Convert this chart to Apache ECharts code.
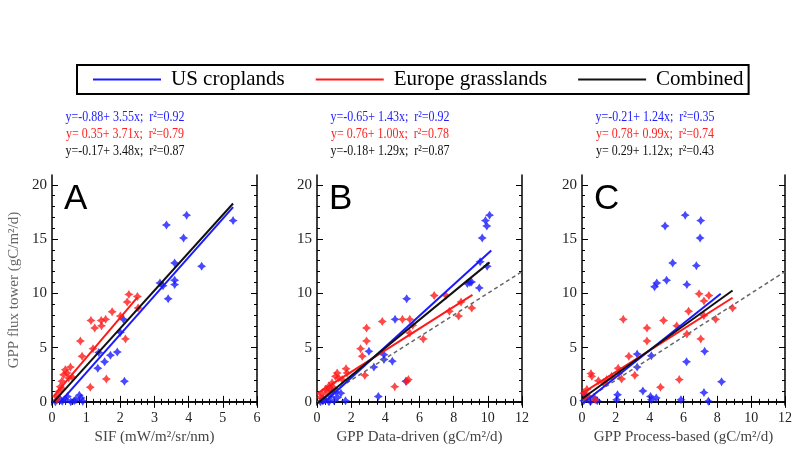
<!DOCTYPE html>
<html>
<head>
<meta charset="utf-8">
<script src="https://cdn.jsdelivr.net/npm/echarts@6/dist/echarts.min.js"></script>
<style>
  html, body { margin: 0; padding: 0; background: #fff; }
  #chart { width: 795px; height: 450px; }
</style>
</head>
<body>
<div id="chart"></div>
<script>
// panel data: [x, GPP flux tower]
const usA = [[5.3,16.7],[3.94,17.2],[3.35,16.3],[3.85,15.1],[3.59,12.8],[4.38,12.5],[3.16,10.95],[3.25,10.7],[3.59,11.2],[3.59,10.8],[3.4,9.5],[2.09,7.6],[2.0,6.4],[1.91,4.6],[1.71,4.3],[1.54,3.7],[1.34,3.1],[1.37,4.55],[2.12,1.9],[0.1,0.0],[0.25,0.2],[0.4,0.2],[0.55,0.0],[0.7,0.2],[0.8,0.6],[0.85,0.35],[0.9,0.05],[0.45,0.5],[0.3,0.05],[0.65,0.1]];
const euA = [[2.25,9.9],[2.5,9.7],[2.2,9.2],[2.52,8.65],[1.76,8.3],[2.0,7.9],[1.14,7.5],[1.44,7.5],[1.57,7.6],[1.45,7.0],[1.25,6.8],[0.83,5.6],[0.88,4.2],[1.2,4.9],[2.15,5.8],[1.12,1.35],[1.59,2.1],[0.54,3.2],[0.44,2.65],[0.34,2.5],[0.49,2.2],[0.29,1.9],[0.24,1.4],[0.2,0.95],[0.13,0.5],[0.39,2.95],[0.59,2.3],[0.3,1.2],[0.15,0.2]];
const usB = [[10.1,17.2],[9.86,16.7],[9.94,16.2],[9.67,15.1],[9.55,12.9],[9.96,12.5],[8.8,10.9],[8.95,11.0],[9.05,11.05],[9.5,10.5],[5.25,9.5],[4.57,7.6],[3.04,4.65],[3.92,4.35],[3.92,3.9],[4.41,3.75],[3.33,3.2],[5.2,1.9],[3.59,0.5],[1.67,0.1],[0.2,0.0],[0.5,0.2],[0.8,0.5],[1.0,0.1],[1.2,0.4],[0.7,0.0],[1.4,0.8],[0.35,0.3],[1.1,0.9],[0.9,1.0]];
const euB = [[6.86,9.8],[7.55,9.8],[7.75,8.35],[8.43,9.2],[8.29,7.9],[9.06,8.65],[5.0,7.6],[5.43,7.6],[3.82,7.4],[2.9,6.8],[2.9,5.6],[5.43,6.35],[5.6,7.05],[6.22,5.8],[2.55,4.9],[2.65,4.2],[2.8,2.45],[1.7,3.05],[1.76,2.65],[5.35,2.05],[5.25,1.9],[4.55,1.4],[1.08,2.35],[1.27,2.2],[1.47,2.05],[0.88,1.75],[0.69,1.45],[0.49,1.15],[0.29,0.7],[0.78,1.15],[0.98,1.3],[0.2,0.4],[1.18,2.65],[0.6,0.9]];
const usC = [[6.1,17.2],[7.02,16.7],[4.91,16.2],[6.98,15.1],[5.36,12.8],[6.76,12.55],[5.0,11.2],[4.42,10.95],[4.29,10.6],[6.2,10.8],[7.25,4.65],[6.18,3.7],[4.1,4.25],[3.26,4.4],[3.26,3.2],[8.25,1.85],[3.6,1.0],[7.21,0.85],[4.05,0.5],[4.39,0.35],[4.1,0.2],[5.85,0.2],[7.47,0.05],[2.1,0.65],[2.05,0.2],[0.1,0.1],[0.3,0.3],[0.5,0.0],[0.7,0.4],[0.9,0.1],[0.2,0.6]];
const euC = [[6.92,9.95],[7.5,9.8],[7.21,9.3],[8.9,8.65],[6.3,8.35],[7.9,7.6],[4.82,7.5],[2.44,7.6],[5.6,7.0],[3.84,6.8],[3.84,5.6],[7.2,7.95],[6.2,6.25],[7.02,5.8],[2.77,4.2],[2.14,3.1],[2.18,2.6],[2.34,2.1],[3.12,2.45],[5.75,2.05],[4.64,1.35],[0.53,2.6],[0.58,2.35],[0.97,1.95],[1.27,1.75],[0.29,1.15],[0.1,0.8],[0.4,0.5],[0.78,0.2],[0.2,0.3],[1.46,2.05],[1.75,2.35]];

// fitted lines y = a + b x, one entry per panel (A, B, C)
const usIntercept = [-0.88, -0.65, -0.21];
const usSlope = [3.55, 1.43, 1.24];
const usR2 = ['0.92', '0.92', '0.35'];
const usRange = [[0.22, 5.3], [0.3, 10.2], [0.1, 8.2]];
const euIntercept = [0.35, 0.76, 0.78];
const euSlope = [3.71, 1.00, 0.99];
const euR2 = ['0.79', '0.78', '0.74'];
const euRange = [[0.05, 2.5], [0.0, 9.1], [0.0, 8.9]];
const allIntercept = [-0.17, -0.18, 0.29];
const allSlope = [3.48, 1.29, 1.12];
const allR2 = ['0.87', '0.87', '0.43'];
const allRange = [[0.05, 5.3], [0.05, 10.1], [0.0, 8.9]];
const oneToOne = [[0, 0], [12, 12]];

const panelLetters = ['A', 'B', 'C'];
const xNames = ['SIF (mW/m²/sr/nm)', 'GPP Data-driven (gC/m²/d)', 'GPP Process-based (gC/m²/d)'];
const yName = 'GPP flux tower (gC/m²/d)';
const xMax = [6, 12, 12];
const xStep = [1, 2, 2];
const xMinor = [5, 4, 4];
const yMajor = [0, 5, 10, 15, 20];
const yMinorVals = [1,2,3,4,6,7,8,9,11,12,13,14,16,17,18,19];

const usPts = [usA, usB, usC];
const euPts = [euA, euB, euC];

const font = 'Liberation Serif';
const BLUE = '#1a1aff', RED = '#ff1a1a', BLACK = '#111';
const gridLeft = [52, 317, 582];
const star = 'path://M0,-1 L0.38,-0.38 L1,0 L0.38,0.38 L0,1 L-0.38,0.38 L-1,0 L-0.38,-0.38 Z';

const chart = echarts.init(document.getElementById('chart'));

const grids = [], xAxes = [], yAxes = [], series = [], graphics = [];
const axisLine = { show: true, lineStyle: { color: '#000', width: 1.5 } };

function fitLine(a, b, r) {
  return [[r[0], a + b * r[0]], [r[1], a + b * r[1]]];
}
function eq(a, b, r2) {
  const s = a < 0 ? a.toFixed(2) : ' ' + a.toFixed(2);
  return 'y=' + s + '+ ' + b.toFixed(2) + 'x;  r²=' + r2;
}

for (let p = 0; p < 3; p++) {
  grids.push({ left: gridLeft[p], top: 175, width: 205, height: 233 });
  const xBase = {
    gridIndex: p, type: 'value', min: 0, max: xMax[p], interval: xStep[p],
    axisLine: axisLine,
    axisTick: { inside: true, length: 6, lineStyle: { color: '#000' } },
    minorTick: { show: true, splitNumber: xMinor[p], length: 3, lineStyle: { color: '#000' } },
    splitLine: { show: false }, minorSplitLine: { show: false }
  };
  xAxes.push(Object.assign({}, xBase, {
    position: 'bottom',
    name: xNames[p], nameLocation: 'middle', nameGap: 22,
    nameTextStyle: { fontFamily: font, fontSize: 15, color: '#444' },
    axisLabel: { margin: 6, fontFamily: font, fontSize: 14, color: '#222' }
  }));
  xAxes.push(Object.assign({}, xBase, { position: 'top', axisLabel: { show: false } }));

  const yBase = { gridIndex: p, type: 'value', min: -0.3, max: 20.9, splitLine: { show: false } };
  yAxes.push(Object.assign({}, yBase, {
    position: 'left', axisLine: axisLine,
    axisTick: { inside: true, length: 6, customValues: yMajor, lineStyle: { color: '#000' } },
    axisLabel: { customValues: yMajor, margin: 5, fontFamily: font, fontSize: 15, color: '#222' },
    name: p === 0 ? yName : '', nameLocation: 'middle', nameGap: 30,
    nameTextStyle: { fontFamily: font, fontSize: 15, color: '#666' }
  }));
  yAxes.push(Object.assign({}, yBase, {
    position: 'left', axisLine: { show: false },
    axisTick: { inside: true, length: 3, customValues: yMinorVals, lineStyle: { color: '#000' } },
    axisLabel: { show: false }
  }));
  yAxes.push(Object.assign({}, yBase, {
    position: 'right', axisLine: axisLine,
    axisTick: { inside: true, length: 6, customValues: yMajor, lineStyle: { color: '#000' } },
    axisLabel: { show: false }
  }));
  yAxes.push(Object.assign({}, yBase, {
    position: 'right', axisLine: { show: false },
    axisTick: { inside: true, length: 3, customValues: yMinorVals, lineStyle: { color: '#000' } },
    axisLabel: { show: false }
  }));

  const xi = 2 * p, yi = 4 * p;
  series.push({ type: 'scatter', name: 'us pts', xAxisIndex: xi, yAxisIndex: yi, data: usPts[p],
    symbol: star, symbolSize: 9, itemStyle: { color: BLUE }, z: 2 });
  series.push({ type: 'scatter', name: 'eu pts', xAxisIndex: xi, yAxisIndex: yi, data: euPts[p],
    symbol: star, symbolSize: 9, itemStyle: { color: RED }, z: 2 });
  if (p > 0) {
    series.push({ type: 'line', name: '1:1', xAxisIndex: xi, yAxisIndex: yi, data: oneToOne,
      symbol: 'none', lineStyle: { color: '#666', width: 1.5, type: [4, 3] }, z: 3 });
  }
  series.push({ type: 'line', name: 'Europe grasslands', xAxisIndex: xi, yAxisIndex: yi,
    data: fitLine(euIntercept[p], euSlope[p], euRange[p]), symbol: 'none',
    color: RED, lineStyle: { color: RED, width: 2 }, z: 4 });
  series.push({ type: 'line', name: 'US croplands', xAxisIndex: xi, yAxisIndex: yi,
    data: fitLine(usIntercept[p], usSlope[p], usRange[p]), symbol: 'none',
    color: BLUE, lineStyle: { color: BLUE, width: 2 }, z: 4 });
  series.push({ type: 'line', name: 'Combined', xAxisIndex: xi, yAxisIndex: yi,
    data: fitLine(allIntercept[p], allSlope[p], allRange[p]), symbol: 'none',
    color: BLACK, lineStyle: { color: BLACK, width: 2 }, z: 4 });

  // regression equations above each panel (condensed serif)
  const cx = gridLeft[p] + 73;
  const lines = [
    [eq(usIntercept[p], usSlope[p], usR2[p]), '#2020ff'],
    [eq(euIntercept[p], euSlope[p], euR2[p]), '#ff2020'],
    [eq(allIntercept[p], allSlope[p], allR2[p]), '#111']
  ];
  lines.forEach((l, i) => {
    graphics.push({ type: 'text', x: cx, y: 117 + 17 * i, scaleX: 0.8,
      style: { text: l[0], fill: l[1], font: '15px "' + font + '"',
        align: 'center', textAlign: 'center', verticalAlign: 'middle', textVerticalAlign: 'middle' } });
  });
  graphics.push({ type: 'text', x: gridLeft[p] + 12, y: 182,
    style: { text: panelLetters[p], fill: '#000', font: '35px "Liberation Sans"' }, z: 10 });
}

const option = {
  animation: false,
  backgroundColor: '#fff',
  legend: {
    top: 65, left: 77,
    data: ['US croplands', 'Europe grasslands', 'Combined'],
    icon: 'rect', itemWidth: 68, itemHeight: 2, itemGap: 31,
    borderColor: '#000', borderWidth: 2, padding: [4, 5, 4, 16],
    textStyle: { fontFamily: font, fontSize: 21, color: '#000', padding: [0, 0, 0, 5] }
  },
  grid: grids,
  xAxis: xAxes,
  yAxis: yAxes,
  series: series,
  graphic: graphics
};

chart.setOption(option);
</script>
</body>
</html>
